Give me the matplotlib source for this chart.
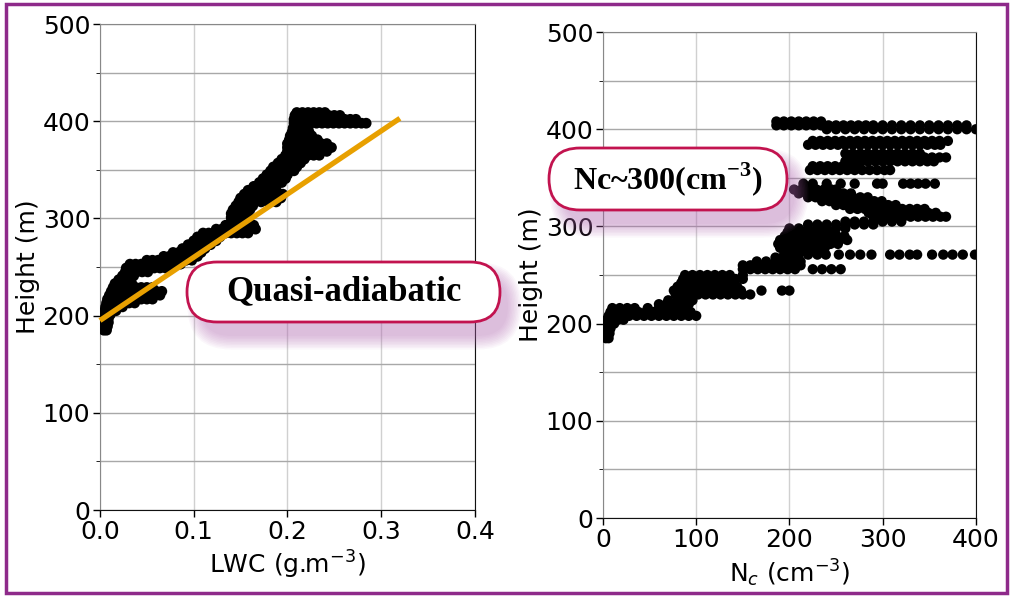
"""
LWC / Nc 연직 프로파일 (quasi-adiabatic 비교)
"""
import matplotlib
matplotlib.use("Agg")
import matplotlib.pyplot as plt
from matplotlib.patches import FancyBboxPatch, Rectangle
from matplotlib.transforms import IdentityTransform
import matplotlib.ticker as mticker

plt.rcParams["font.family"] = "DejaVu Sans"
plt.rcParams["mathtext.fontset"] = "custom"
plt.rcParams["mathtext.bf"] = "Liberation Serif:bold"

# ---- left panel: 고도별 LWC (g m-3) 관측값 (height m, [lwc ...])
LWC_ROWS = [
    (185, [0.004, 0.007]),
    (189, [0.003, 0.008]),
    (193, [0.004, 0.009]),
    (197, [0.004, 0.009]),
    (201, [0.005, 0.011]),
    (205, [0.005, 0.011, 0.017]),
    (209, [0.006, 0.012, 0.018, 0.024]),
    (213, [0.007, 0.013, 0.019, 0.025, 0.031, 0.037]),
    (217, [0.008, 0.014, 0.020, 0.026, 0.032, 0.038, 0.044, 0.050, 0.056]),
    (221, [0.010, 0.016, 0.022, 0.028, 0.034, 0.040, 0.046, 0.052, 0.058, 0.064]),
    (225, [0.012, 0.018, 0.024, 0.030, 0.036, 0.042, 0.048, 0.054, 0.060, 0.066]),
    (229, [0.014, 0.020, 0.026, 0.032, 0.038, 0.044, 0.050, 0.056]),
    (233, [0.016, 0.022, 0.028, 0.034]),
    (237, [0.020, 0.026, 0.032]),
    (241, [0.024, 0.030, 0.036]),
    (245, [0.027, 0.033, 0.039, 0.045, 0.051]),
    (249, [0.028, 0.034, 0.040, 0.046, 0.052, 0.058, 0.064, 0.070, 0.076]),
    (253, [0.032, 0.038, 0.044, 0.050, 0.056, 0.062, 0.068, 0.074, 0.080, 0.086]),
    (257, [0.050, 0.056, 0.062, 0.068, 0.074, 0.080, 0.086, 0.092, 0.098]),
    (261, [0.068, 0.074, 0.080, 0.086, 0.092, 0.098, 0.104]),
    (265, [0.078, 0.084, 0.090, 0.096, 0.102, 0.108]),
    (269, [0.088, 0.094, 0.100, 0.106, 0.112]),
    (273, [0.094, 0.100, 0.106, 0.112, 0.118]),
    (277, [0.100, 0.106, 0.112, 0.118, 0.124]),
    (281, [0.104, 0.110, 0.116, 0.122, 0.128]),
    (285, [0.110, 0.116, 0.122, 0.128, 0.134, 0.140, 0.146, 0.152, 0.158]),
    (289, [0.124, 0.130, 0.136, 0.142, 0.148, 0.154, 0.160, 0.166]),
    (293, [0.134, 0.140, 0.146, 0.152, 0.158, 0.164]),
    (297, [0.140, 0.146, 0.152, 0.158]),
    (301, [0.140, 0.146, 0.152, 0.158]),
    (305, [0.140, 0.146, 0.152, 0.157]),
    (309, [0.142, 0.148, 0.154, 0.160]),
    (313, [0.145, 0.151, 0.157, 0.163]),
    (317, [0.148, 0.154, 0.160, 0.172, 0.180, 0.188]),
    (321, [0.150, 0.156, 0.162, 0.168, 0.174, 0.180, 0.186, 0.193]),
    (325, [0.154, 0.160, 0.166, 0.172, 0.178, 0.184, 0.190, 0.195]),
    (329, [0.158, 0.164, 0.170, 0.176, 0.182, 0.188]),
    (333, [0.164, 0.170, 0.176, 0.182, 0.188]),
    (337, [0.170, 0.176, 0.182, 0.188, 0.194]),
    (341, [0.174, 0.180, 0.186, 0.192, 0.198]),
    (345, [0.178, 0.184, 0.190, 0.196, 0.200]),
    (349, [0.182, 0.188, 0.194, 0.200, 0.207]),
    (353, [0.185, 0.191, 0.197, 0.203, 0.210]),
    (357, [0.190, 0.196, 0.202, 0.208, 0.214]),
    (361, [0.194, 0.200, 0.206, 0.212, 0.218]),
    (365, [0.198, 0.204, 0.210, 0.216, 0.222, 0.228, 0.234]),
    (369, [0.200, 0.206, 0.212, 0.218, 0.224, 0.230, 0.236, 0.242]),
    (373, [0.200, 0.206, 0.212, 0.218, 0.224, 0.230, 0.236, 0.242, 0.247]),
    (377, [0.200, 0.206, 0.212, 0.218, 0.224, 0.230, 0.236, 0.242]),
    (381, [0.202, 0.208, 0.214, 0.220, 0.226, 0.232]),
    (385, [0.203, 0.209, 0.215, 0.221, 0.226]),
    (389, [0.205, 0.211, 0.217, 0.223]),
    (393, [0.206, 0.212, 0.218, 0.222]),
    (398, [0.207, 0.213, 0.219, 0.225, 0.231, 0.237, 0.243, 0.249, 0.255,
           0.261, 0.267, 0.273, 0.279, 0.284]),
    (402, [0.207, 0.213, 0.219, 0.225, 0.231, 0.237, 0.243, 0.249, 0.255,
           0.261, 0.267, 0.273]),
    (406, [0.208, 0.214, 0.220, 0.226, 0.232, 0.238, 0.244, 0.250, 0.256]),
    (409, [0.210, 0.216, 0.222, 0.228, 0.234, 0.240]),
]

# quasi-adiabatic reference line
ADIAB_LWC = [0.0, 0.32]
ADIAB_HEIGHT = [195, 403]

# ---- right panel: 고도별 Nc (cm-3) 관측값 (height m, [nc ...])
NC_ROWS = [
    (185, [3, 6]),
    (190, [3, 7]),
    (195, [3, 8]),
    (200, [3, 8, 12]),
    (204, [4, 10, 16, 22]),
    (208, [6, 12, 20, 28, 36, 44, 52, 60, 68, 76, 84, 92, 100]),
    (212, [8, 14, 22, 30, 38, 46, 54, 62, 70, 78, 86, 94]),
    (216, [10, 18, 26, 34, 48, 60, 70, 80, 90]),
    (220, [60, 68, 76, 84, 92]),
    (224, [70, 80, 88, 96]),
    (230, [78, 86, 94, 102, 110, 118, 126, 134, 142, 150, 158]),
    (234, [76, 84, 92, 100, 108, 116, 124, 132, 140, 148, 170, 192, 200]),
    (238, [80, 88, 96, 104, 112, 120, 128, 136, 144]),
    (242, [84, 92, 100, 108, 116, 124, 132, 140]),
    (246, [86, 94, 102, 110, 118, 126, 134, 142, 150]),
    (250, [88, 96, 104, 112, 120, 128, 136, 150]),
    (256, [150, 158, 166, 174, 182, 190, 198, 206, 225, 235, 245, 255]),
    (260, [150, 158, 166, 174, 182, 190, 198, 206, 212]),
    (264, [165, 175, 185, 195, 205, 212]),
    (268, [185, 192, 200, 208]),
    (271, [210, 220, 230, 239, 253, 265, 276, 288, 308, 318, 329, 337, 353,
           365, 375, 386, 399]),
    (274, [195, 203, 211, 219, 227, 235]),
    (278, [190, 198, 206, 214, 222, 230, 238]),
    (282, [188, 196, 204, 212, 220, 228, 236, 244, 252]),
    (286, [190, 198, 206, 214, 222, 230, 238, 246, 254, 262]),
    (290, [195, 203, 211, 219, 227, 235, 243, 251, 259]),
    (294, [198, 206, 214, 222, 230, 238, 246]),
    (298, [200, 210, 220, 230, 240, 250, 260]),
    (302, [220, 230, 240, 250, 260, 270, 280, 290]),
    (305, [260, 270, 280, 290, 300, 310, 320]),
    (310, [290, 298, 306, 314, 322, 330, 338, 346, 354, 362, 368]),
    (314, [285, 293, 301, 309, 317, 325, 333, 341, 349, 357]),
    (318, [265, 273, 281, 289, 297, 305, 313, 321, 329, 337, 345]),
    (322, [250, 258, 266, 274, 282, 290, 298, 306, 314]),
    (326, [235, 243, 251, 259, 267, 275, 283, 291, 299]),
    (330, [220, 228, 236, 244, 252, 260, 268, 276, 284]),
    (334, [210, 218, 226, 234, 242, 250, 258, 266]),
    (338, [205, 213, 221, 229, 237, 245, 250]),
    (344, [215, 225, 240, 255, 270, 294, 300, 322, 330, 338, 346, 356]),
    (358, [222, 230, 238, 246, 254, 262, 270, 278, 286, 294, 302, 308]),
    (362, [225, 233, 241, 249, 257, 265, 275]),
    (367, [260, 268, 276, 284, 292, 300, 308, 316, 324, 332, 340, 348, 355]),
    (371, [265, 273, 281, 289, 297, 305, 313, 321, 329, 337, 345, 353, 361, 368]),
    (375, [260, 268, 276, 284, 292, 300, 308, 316, 324, 332, 340]),
    (384, [220, 228, 236, 244, 252, 260, 268, 276, 284, 292, 300, 308, 316,
           324, 332, 340, 348, 356, 362]),
    (388, [225, 233, 241, 249, 257, 265, 273, 281, 289, 297, 305, 313, 321,
           329, 337, 345, 353, 361, 370]),
    (400, [240, 250, 260, 270, 280, 290, 300, 310, 320, 330, 340, 350, 360,
           370, 380, 390, 400]),
    (404, [186, 194, 202, 210, 218, 226, 234, 242, 250, 258, 266, 274, 282,
           290, 300, 310, 320, 330, 340, 350, 360, 370, 380, 390]),
    (408, [186, 194, 202, 210, 218, 226, 234]),
]

LWC_TICKS = [0.0, 0.1, 0.2, 0.3, 0.4]
NC_TICKS = [0, 100, 200, 300, 400]
H_TICKS = [0, 100, 200, 300, 400, 500]

FS = 18
BOX_EDGE = "#c2134f"
FRAME = "#8e2a8a"


def flatten(rows):
    xs, hs = [], []
    for h, vals in rows:
        xs.extend(vals)
        hs.extend([h] * len(vals))
    return xs, hs


lwc, lwc_height = flatten(LWC_ROWS)
nc, nc_height = flatten(NC_ROWS)

fig = plt.figure(figsize=(10.16, 5.97), dpi=100)
ax1 = fig.add_axes([0.0984, 0.1457, 0.369, 0.814])
ax2 = fig.add_axes([0.5935, 0.1323, 0.367, 0.814])


def style_axes(ax, xticks, xlabel):
    ax.set_ylim(0, 500)
    ax.set_xlim(xticks[0], xticks[-1])
    ax.set_xticks(xticks)
    ax.set_yticks(H_TICKS)
    ax.yaxis.set_minor_locator(mticker.MultipleLocator(50))
    ax.grid(True, axis="y", which="both", color="#a8a8a8", linewidth=1.0)
    ax.grid(True, axis="x", which="major", color="#d0d0d0", linewidth=1.0)
    ax.set_axisbelow(True)
    ax.tick_params(labelsize=FS, length=5, width=1, pad=2)
    ax.tick_params(which="minor", length=3)
    for side in ["left", "top"]:
        ax.spines[side].set_color("#888888")
    for side in ["right", "bottom"]:
        ax.spines[side].set_color("#111111")
    ax.set_xlabel(xlabel, fontsize=FS, labelpad=4)
    ax.set_ylabel("Height (m)", fontsize=FS, labelpad=2)


ax1.scatter(lwc, lwc_height, s=60, color="black", edgecolors="none", zorder=3)
ax1.plot(ADIAB_LWC, ADIAB_HEIGHT, color="#e8a000", linewidth=3.8, zorder=4,
         clip_on=False, solid_capstyle="butt")
style_axes(ax1, LWC_TICKS, "LWC (g.m$^{-3}$)")
ax1.xaxis.set_major_formatter(mticker.FormatStrFormatter("%.1f"))

ax2.scatter(nc, nc_height, s=55, color="black", edgecolors="none", zorder=3)
style_axes(ax2, NC_TICKS, "N$_c$ (cm$^{-3}$)")


def pill(x0, y0, w, h, text, size):
    """둥근 라벨 박스 (픽셀 좌표, 좌하단 원점) + 분홍 그림자"""
    tr = IdentityTransform()
    r = h / 2
    for i in range(10):
        fig.patches.append(FancyBboxPatch(
            (x0 + 14, y0 - 14), w - 6, h,
            boxstyle=f"round,pad={1.5 * i},rounding_size={r + 1.5 * i}",
            transform=tr, facecolor="#b468b4", edgecolor="none", alpha=0.05,
            zorder=9))
    fig.patches.append(FancyBboxPatch(
        (x0, y0), w, h, boxstyle=f"round,pad=0,rounding_size={r}",
        transform=tr, facecolor="white", edgecolor=BOX_EDGE, linewidth=2,
        zorder=10))
    fig.text(x0 + w / 2, y0 + h / 2, text, transform=tr, ha="center",
             va="center", fontsize=size, fontweight="bold",
             family="Liberation Serif", zorder=11)


H = 597
pill(187, H - 322, 313, 60, "Quasi-adiabatic", 25)
pill(549, H - 210, 238, 62, "Nc~300(cm$^{\\mathbf{-3}}$)", 23)

fig.patches.append(Rectangle((6, 4), 1001, 589, transform=IdentityTransform(),
                             fill=False, edgecolor=FRAME, linewidth=2.5,
                             zorder=20))

fig.savefig("out.png", dpi=100)
plt.close(fig)
